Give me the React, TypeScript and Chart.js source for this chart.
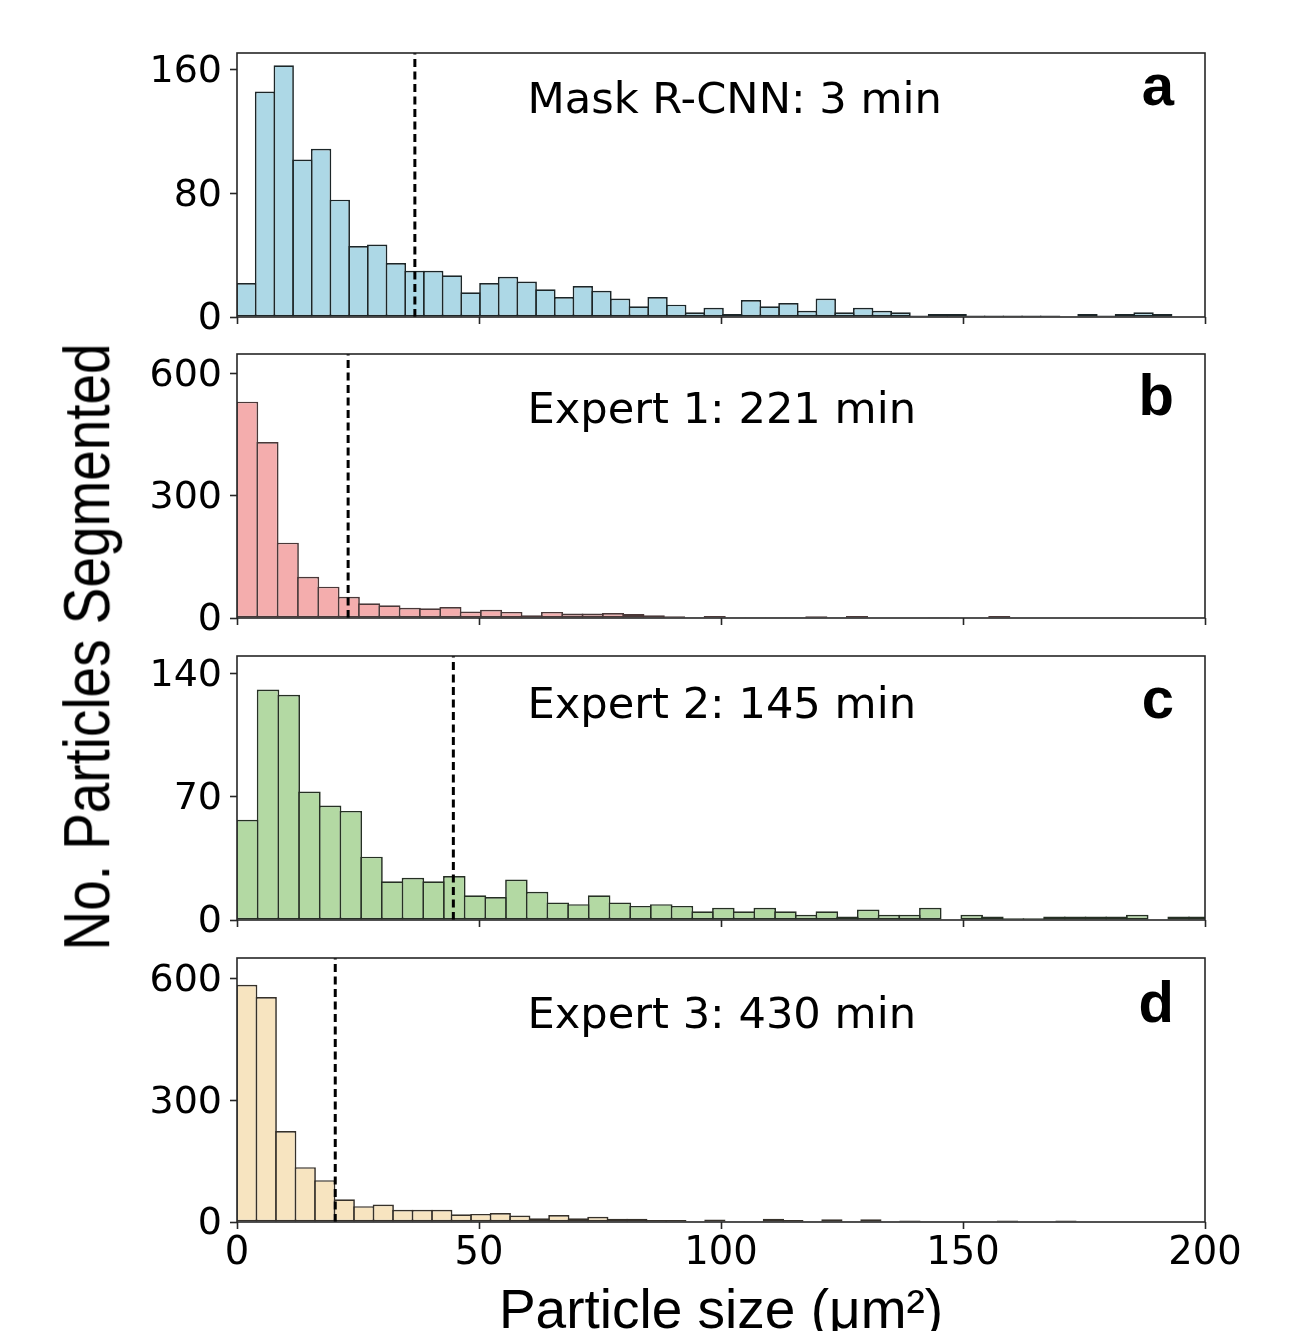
import React, { useEffect, useRef } from 'react';
import { Chart, registerables } from 'chart.js';

Chart.register(...registerables);

// ---------------- data ----------------
const panelLetters = ['a', 'b', 'c', 'd'];
const panelTitles = ['Mask R-CNN: 3 min', 'Expert 1: 221 min', 'Expert 2: 145 min', 'Expert 3: 430 min'];

// histogram bin widths (µm²) per panel
const binWidths = [3.862, 4.2, 4.276, 4.03];

// counts per bin, starting at 0
const countsMaskRCNN = [22, 146, 163, 102, 109, 76, 46, 47, 35, 30, 30, 27, 16, 22, 26, 23, 18, 13, 20, 17, 12, 7, 13, 8, 3, 6, 2, 11, 7, 9, 4, 12, 3, 6, 4, 3, 1, 2, 2, 1, 1, 1, 1, 1, 0, 2, 1, 2, 3, 2];
const countsExpert1 = [531, 432, 185, 101, 77, 52, 36, 31, 25, 24, 27, 16, 20, 15, 7, 15, 11, 11, 12, 10, 7, 4, 2, 5, 2, 2, 2, 2, 4, 2, 5, 1, 1, 0, 2, 0, 1, 5, 1, 1, 0, 1, 1, 2, 1, 0, 1];
const countsExpert2 = [57, 131, 128, 73, 65, 62, 36, 22, 24, 22, 25, 14, 13, 23, 16, 10, 9, 14, 10, 8, 9, 8, 5, 7, 5, 7, 5, 3, 5, 2, 6, 3, 3, 7, 0, 3, 2, 1, 1, 2, 2, 2, 2, 3, 0, 2, 2];
const countsExpert3 = [584, 554, 224, 135, 103, 56, 39, 43, 30, 30, 30, 19, 20, 22, 16, 9, 17, 9, 13, 8, 8, 5, 5, 2, 6, 2, 2, 8, 5, 2, 7, 2, 7, 1, 4, 2, 0, 1, 1, 4, 1, 1, 4, 1, 1, 1, 1, 1];

// mean particle size (dashed line)
const meanSizes = [36.75, 22.96, 44.7, 20.3];

// y axis ranges and ticks
const yMaxes = [171, 648, 150, 650];
const yTicksMaskRCNN = [0, 80, 160];
const yTicksExpert1 = [0, 300, 600];
const yTicksExpert2 = [0, 70, 140];
const yTicksExpert3 = [0, 300, 600];

// x axis
const xMin = 0;
const xMax = 200;
const xTicks = [0, 50, 100, 150, 200];

const xTitle = 'Particle size (μm²)';
const yTitle = 'No. Particles Segmented';

// ---------------- styles / layout ----------------
const allCounts = [countsMaskRCNN, countsExpert1, countsExpert2, countsExpert3];
const allYTicks = [yTicksMaskRCNN, yTicksExpert1, yTicksExpert2, yTicksExpert3];
const fillColors = ['#add8e6', '#f4adad', '#b3d9a3', '#f7e4c0'];
const edgeColors = ['#1c2628', '#4a3838', '#263024', '#36312a'];

const W = 1309;
const H = 1331;
const plotLeft = 237;
const plotRight = 1205;
const plotHeight = 264;
const panelTops = [53, 354, 656, 958];
const padTop = 35;
const titleDy = [60, 69, 62, 70];
const letterDy = [52, 61, 62, 64];

const frameAndLabels = {
  id: 'frameAndLabels',
  afterDatasetsDraw(chart: any, _args: any, opts: any) {
    const { ctx, chartArea: a } = chart;
    ctx.save();
    ctx.strokeStyle = '#262626';
    ctx.lineWidth = 1.6;
    ctx.strokeRect(a.left, a.top, a.right - a.left, a.bottom - a.top);
    ctx.fillStyle = '#000';
    ctx.font = '43.2px "DejaVu Sans"';
    ctx.textAlign = 'left';
    ctx.textBaseline = 'alphabetic';
    ctx.fillText(opts.title, a.left + 0.3 * (a.right - a.left), a.top + opts.titleDy);
    ctx.font = 'bold 58px "Liberation Sans", Arial';
    ctx.textAlign = 'right';
    ctx.fillText(opts.letter, a.right - 31, a.top + opts.letterDy);
    ctx.restore();
  },
};

function Panel({ index }: { index: number }) {
  const ref = useRef<HTMLCanvasElement | null>(null);
  const isLast = index === 3;
  const canvasTop = panelTops[index] - padTop;
  const canvasH = isLast ? H - canvasTop : padTop + plotHeight + 35;
  const xAxisH = canvasH - padTop - plotHeight;

  useEffect(() => {
    if (!ref.current) return;
    const bw = binWidths[index];
    const counts = allCounts[index];
    const bars = counts.map((c, i) => ({ x: (i + 0.5) * bw, y: c }));
    const yMax = yMaxes[index];
    const yTicks = allYTicks[index];
    const mean = meanSizes[index];
    const tickGrid = {
      drawOnChartArea: false,
      drawTicks: true,
      tickLength: 7,
      tickWidth: 1.6,
      tickColor: '#262626',
      offset: false,
    };
    const chart = new Chart(ref.current, {
      type: 'bar',
      data: {
        datasets: [
          {
            type: 'line',
            data: [
              { x: mean, y: 0 },
              { x: mean, y: yMax },
            ],
            borderColor: '#000',
            borderWidth: 3,
            borderDash: [8, 4.5],
            pointRadius: 0,
            fill: false,
            order: 0,
          } as any,
          {
            type: 'bar',
            data: bars,
            backgroundColor: fillColors[index],
            borderColor: edgeColors[index],
            borderWidth: 1.7,
            borderSkipped: false,
            barPercentage: 1.088,
            categoryPercentage: 1,
            order: 1,
          } as any,
        ],
      },
      plugins: [frameAndLabels],
      options: {
        animation: false,
        responsive: false,
        maintainAspectRatio: false,
        events: [],
        layout: { padding: { top: padTop, left: 0, right: W - plotRight, bottom: 0 } },
        plugins: {
          legend: { display: false },
          tooltip: { enabled: false },
          frameAndLabels: {
            title: panelTitles[index],
            letter: panelLetters[index],
            titleDy: titleDy[index],
            letterDy: letterDy[index],
          },
        } as any,
        scales: {
          x: {
            type: 'linear',
            min: xMin,
            max: xMax,
            offset: false,
            afterBuildTicks: (s: any) => {
              s.ticks = xTicks.map((v) => ({ value: v }));
            },
            afterFit: (s: any) => {
              s.height = xAxisH;
            },
            border: { display: false },
            grid: tickGrid,
            ticks: {
              display: isLast,
              autoSkip: false,
              maxRotation: 0,
              padding: 2,
              color: '#000',
              font: { family: '"DejaVu Sans"', size: 38.5 },
            },
            title: {
              display: isLast,
              text: xTitle,
              color: '#000',
              font: { family: '"Liberation Sans", Arial', size: 55, lineHeight: 0.5 },
              padding: { top: 0, bottom: 4 },
            },
          },
          y: {
            type: 'linear',
            min: 0,
            max: yMax,
            afterBuildTicks: (s: any) => {
              s.ticks = yTicks.map((v) => ({ value: v }));
            },
            afterFit: (s: any) => {
              s.width = plotLeft;
            },
            border: { display: false },
            grid: tickGrid,
            ticks: {
              padding: 8,
              labelOffset: 2.5,
              color: '#000',
              font: { family: '"DejaVu Sans"', size: 38 },
            },
          },
        } as any,
      },
    });
    return () => chart.destroy();
  }, [index]);

  return (
    <canvas
      ref={ref}
      width={W}
      height={canvasH}
      style={{ position: 'absolute', left: 0, top: canvasTop, width: W, height: canvasH }}
    />
  );
}

export default function App() {
  return (
    <div
      style={{
        position: 'fixed',
        left: 0,
        top: 0,
        width: W,
        height: H,
        background: '#fff',
        overflow: 'hidden',
      }}
    >
      {[0, 1, 2, 3].map((i) => (
        <Panel key={i} index={i} />
      ))}
      <div
        style={{
          position: 'absolute',
          left: 86.5,
          top: 647,
          transform: 'translate(-50%, -50%) rotate(-90deg) scale(0.98, 1.15)',
          fontFamily: '"Liberation Sans", Arial, sans-serif',
          fontSize: 56,
          lineHeight: '56px',
          whiteSpace: 'nowrap',
          color: '#000',
        }}
      >
        {yTitle}
      </div>
    </div>
  );
}
